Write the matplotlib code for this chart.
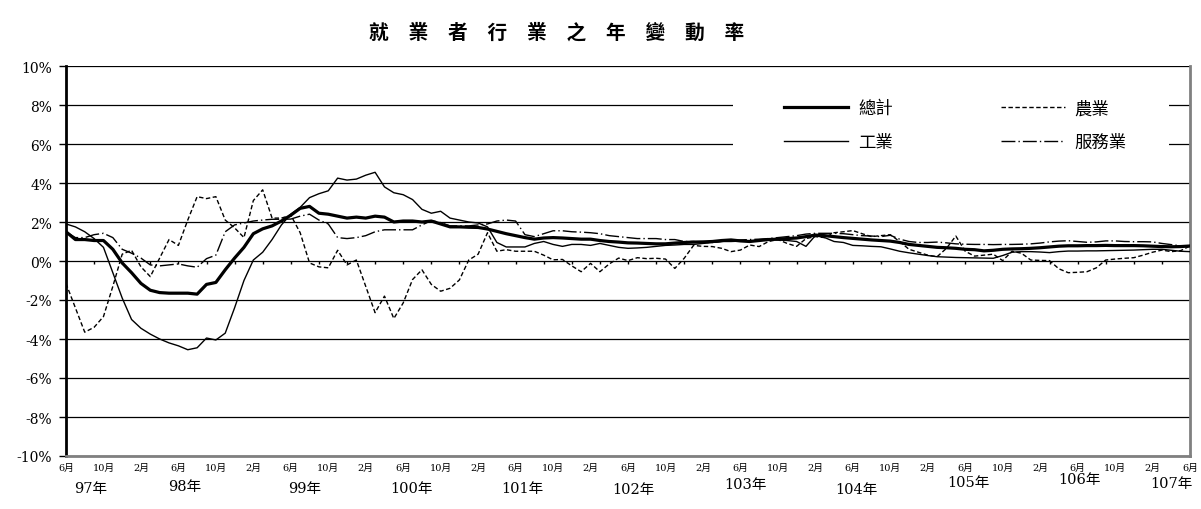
import numpy as np
import matplotlib
matplotlib.use('Agg')
import matplotlib.pyplot as plt
from matplotlib.patches import Rectangle

# ---------- 字體 ----------
CJK = 'Noto Sans CJK TC'
SERIF_CJK = ['DejaVu Serif', CJK]
plt.rcParams['font.family'] = [CJK, 'DejaVu Sans']
plt.rcParams['axes.unicode_minus'] = False

# ---------- 資料 (97年6月 ~ 107年6月, 月資料, %) ----------
total = [
    1.5, 1.1, 1.1, 1.05, 1.05, 0.6, -0.1, -0.6, -1.15, -1.5,
    -1.62, -1.65, -1.65, -1.65, -1.7, -1.2, -1.1, -0.45, 0.15, 0.7,
    1.4, 1.65, 1.8, 2.05, 2.35, 2.7, 2.8, 2.45, 2.4, 2.3,
    2.2, 2.25, 2.2, 2.3, 2.25, 2.0, 2.05, 2.05, 2.0, 2.05,
    1.9, 1.75, 1.75, 1.73, 1.72, 1.64, 1.52, 1.4, 1.3, 1.2,
    1.12, 1.18, 1.2, 1.18, 1.15, 1.12, 1.12, 1.05, 1.0, 0.97,
    0.93, 0.92, 0.9, 0.88, 0.88, 0.92, 0.95, 0.97, 0.98, 1.0,
    1.05, 1.08, 1.03, 1.0, 1.05, 1.1, 1.12, 1.15, 1.18, 1.25,
    1.33, 1.3, 1.25, 1.2, 1.16, 1.12, 1.08, 1.05, 1.02, 0.95,
    0.85, 0.8, 0.75, 0.7, 0.68, 0.65, 0.6, 0.58, 0.52, 0.55,
    0.6, 0.62, 0.63, 0.65, 0.68, 0.72, 0.76, 0.78, 0.78, 0.79,
    0.79, 0.8, 0.79, 0.79, 0.79, 0.78, 0.76, 0.74, 0.73, 0.74,
    0.77,
]
industry = [
    1.9, 1.75, 1.5, 1.15, 0.7, -0.6, -1.9, -3.0, -3.45, -3.75,
    -4.0, -4.2, -4.35, -4.55, -4.45, -3.95, -4.05, -3.7, -2.4, -1.0,
    0.05, 0.45, 1.1, 1.85, 2.4, 2.75, 3.25, 3.45, 3.6, 4.25,
    4.15, 4.2, 4.4, 4.55, 3.8, 3.5, 3.4, 3.15, 2.65, 2.45,
    2.55, 2.2, 2.1, 2.0, 1.95, 1.75, 0.95, 0.72, 0.72, 0.72,
    0.9, 1.0, 0.85, 0.75, 0.85, 0.85, 0.8, 0.9, 0.8, 0.7,
    0.65, 0.67, 0.7, 0.75, 0.8, 0.82, 0.85, 0.85, 0.9, 0.95,
    1.0, 1.0, 1.02, 1.04, 1.06, 1.08, 1.08, 1.05, 1.0, 0.75,
    1.3, 1.2, 1.0, 0.95, 0.8, 0.78, 0.75, 0.73, 0.62, 0.5,
    0.42, 0.35, 0.28, 0.22, 0.2, 0.18, 0.17, 0.16, 0.15, 0.14,
    0.28, 0.45, 0.48, 0.48, 0.46, 0.43, 0.48, 0.51, 0.51, 0.52,
    0.52, 0.53, 0.54, 0.55, 0.56, 0.58, 0.6, 0.6, 0.55, 0.5,
    0.48,
]
agri = [
    -1.15, -2.4, -3.65, -3.4, -2.85, -1.3, 0.35, 0.55, -0.3, -0.8,
    0.15, 1.1, 0.8, 2.1, 3.3, 3.2, 3.3, 2.1, 1.7, 1.2,
    3.1, 3.65, 2.2, 2.2, 2.35, 1.45, -0.1, -0.3, -0.35, 0.55,
    -0.2, 0.05, -1.3, -2.65, -1.8, -2.95, -2.15, -0.95, -0.45, -1.2,
    -1.55, -1.4, -0.97, 0.05, 0.35, 1.45, 0.5, 0.58, 0.5, 0.5,
    0.5, 0.3, 0.06, 0.08, -0.25, -0.55, -0.12, -0.55, -0.15, 0.15,
    0.02, 0.17, 0.12, 0.14, 0.1, -0.38, 0.14, 0.8, 0.75, 0.74,
    0.65, 0.48, 0.56, 0.82, 0.74, 1.0, 1.1, 0.9, 0.75, 1.15,
    1.25, 1.2, 1.45, 1.5, 1.56, 1.4, 1.25, 1.3, 1.35, 1.0,
    0.6, 0.45, 0.3, 0.22, 0.65, 1.28, 0.5, 0.25, 0.3, 0.35,
    0.02, 0.5, 0.4, 0.05, 0.03, 0.02, -0.4, -0.6, -0.58, -0.55,
    -0.35, 0.05, 0.1, 0.14, 0.17, 0.3, 0.45, 0.56, 0.48, 0.53,
    0.77,
]
service = [
    1.5, 1.2, 1.2, 1.35, 1.42, 1.2, 0.6, 0.4, 0.15, -0.2,
    -0.25, -0.2, -0.15, -0.25, -0.32, 0.12, 0.3, 1.5, 1.85, 1.95,
    2.05, 2.1, 2.14, 2.14, 2.15, 2.3, 2.4, 2.1, 1.9, 1.2,
    1.15, 1.2, 1.3, 1.5, 1.6, 1.6, 1.6, 1.6, 1.85, 2.07,
    1.97, 1.8, 1.8, 1.8, 1.85, 1.9, 2.05, 2.1, 2.05, 1.35,
    1.25, 1.4, 1.55, 1.55, 1.5, 1.48, 1.45, 1.4, 1.3, 1.25,
    1.2, 1.15, 1.15, 1.15, 1.1, 1.1, 1.0, 1.0, 0.95, 0.95,
    1.0, 1.05, 1.08, 1.1, 1.12, 1.15, 1.2, 1.25, 1.3, 1.38,
    1.42, 1.42, 1.42, 1.4, 1.35, 1.3, 1.28, 1.25, 1.32, 1.12,
    1.0, 0.95, 0.95, 0.97, 0.93, 0.88, 0.86, 0.85, 0.85, 0.84,
    0.85, 0.85, 0.86, 0.88, 0.92, 0.98, 1.02, 1.04, 1.0, 0.96,
    0.98, 1.03, 1.03, 1.0, 0.99, 0.99, 0.98, 0.9, 0.84, 0.78,
    0.78,
]

month_labels = ['6月', '10月', '2月'] * 10 + ['6月']
year_labels = ['97年', '98年', '99年', '100年', '101年', '102年',
               '103年', '104年', '105年', '106年', '107年']
title = '就　業　者　行　業　之　年　變　動　率'

# 年份文字的位置 (月序, 圖片y像素)
year_pos_m = [2.6, 12.7, 25.5, 36.9, 48.7, 60.6, 72.5, 84.4, 96.3, 108.2, 118.0]
year_pos_y = [489, 487, 489, 489, 489, 490, 485, 490, 483, 480, 484]

W, H = 1201, 510
fig = plt.figure(figsize=(W / 100, H / 100), dpi=100)
ax = fig.add_axes([66 / W, 1 - 457 / H, (1190 - 66) / W, (457 - 67) / H])

x = np.arange(len(total))

# 格線
for v in range(-10, 11, 2):
    ax.axhline(v, color='black', lw=0.9, zorder=1)

# 圖例底色 (遮住格線)
ax.add_patch(Rectangle((71.2, 5.0), 46.6, 4.2, facecolor='white',
                       edgecolor='none', zorder=2))

l_ind, = ax.plot(x, industry, color='black', lw=1.0, zorder=3)
l_agr, = ax.plot(x, agri, color='black', lw=1.0, ls=(0, (3.2, 1.8)), zorder=3)
l_svc, = ax.plot(x, service, color='black', lw=1.0,
                 ls=(0, (10, 2.2, 1, 2.2)), zorder=3)
l_tot, = ax.plot(x, total, color='black', lw=2.3, zorder=4)

# 0% 軸上的刻度
ax.vlines(np.arange(0, 121, 3), -0.15, 0, colors='black', lw=1, zorder=3)

ax.set_xlim(0, 120)
ax.set_ylim(-10, 10)
ax.set_yticks(np.arange(-10, 11, 2))
ax.set_yticklabels([f'{v}%' for v in range(-10, 11, 2)],
                   family=SERIF_CJK, fontsize=10)
ax.set_xticks(np.arange(0, 121, 4))
ax.set_xticklabels(month_labels, family=SERIF_CJK, fontsize=7)
ax.tick_params(axis='y', direction='out', length=5, width=1, pad=5)
ax.tick_params(axis='x', length=0, pad=5)

ax.spines['top'].set_visible(False)
ax.spines['left'].set_linewidth(2)
ax.spines['left'].set_color('black')
for s in ['bottom', 'right']:
    ax.spines[s].set_linewidth(2)
    ax.spines[s].set_color('#808080')

for lab, m, py in zip(year_labels, year_pos_m, year_pos_y):
    ax.text(m, (457 - py) / 390, lab, transform=ax.get_xaxis_transform(),
            ha='center', va='center', fontsize=10.5, family=SERIF_CJK)

ax.legend([l_tot, l_ind, l_agr, l_svc], ['總計', '工業', '農業', '服務業'],
          ncol=2, loc='center', bbox_to_anchor=(955.5 / W, 1 - 126 / H),
          bbox_transform=fig.transFigure, frameon=False,
          prop={'family': CJK, 'size': 12.5},
          handlelength=3.7, handletextpad=0.57, columnspacing=6.2,
          labelspacing=0.9)

fig.text(557 / W, 1 - 33 / H, title, fontsize=14.2, fontweight='bold',
         ha='center', va='center', family=CJK)

fig.savefig('out.png', dpi=100)
